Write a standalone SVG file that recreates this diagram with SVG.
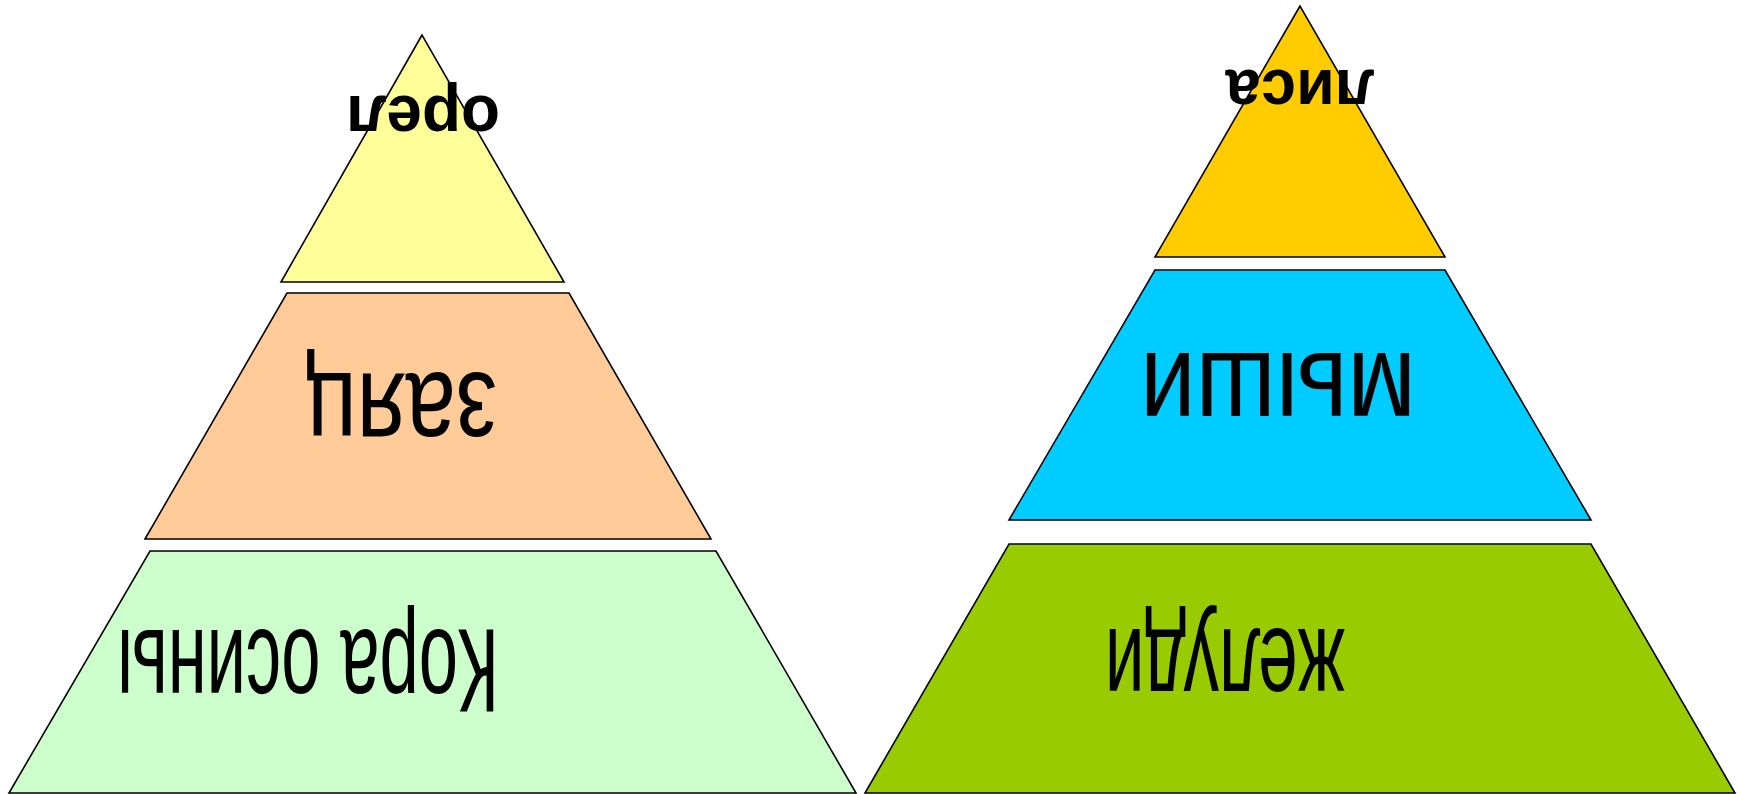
<svg xmlns="http://www.w3.org/2000/svg" width="1743" height="794" viewBox="0 0 1743 794">
<style>
.sh{stroke:#000;stroke-width:1.6;stroke-linejoin:miter}
.t{font-family:"Liberation Sans",Arial,sans-serif;fill:#000;text-anchor:middle}
.b{font-weight:bold}
</style>
<rect width="1743" height="794" fill="#fff"/>
<g id="connectors"></g>
<g id="left-top">
<polygon class="sh" fill="#FFFF99" points="422,35 281,282 564,282"/>
<text class="t b" x="423" y="96" font-size="66" textLength="154" lengthAdjust="spacingAndGlyphs" transform="rotate(180 423 96)">орел</text>
</g>
<g id="left-middle">
<polygon class="sh" fill="#FFCC99" points="287,293 569,293 711,539 145,539"/>
<text class="t" x="401" y="373" font-size="119" textLength="192" lengthAdjust="spacingAndGlyphs" transform="rotate(180 401 373)">заяц</text>
</g>
<g id="left-bottom">
<polygon class="sh" fill="#CCFFCC" points="150,551 716,551 856,793 9,793"/>
<text class="t" x="308" y="630" font-size="118" textLength="382" lengthAdjust="spacingAndGlyphs" transform="rotate(180 308 630)">Кора осины</text>
</g>
<g id="right-top">
<polygon class="sh" fill="#FFCC00" points="1300,6 1155,257 1445,257"/>
<text class="t b" x="1300" y="70" font-size="64" textLength="149" lengthAdjust="spacingAndGlyphs" transform="rotate(180 1300 70)">лиса</text>
</g>
<g id="right-middle">
<polygon class="sh" fill="#00CCFF" points="1155,270 1445,270 1591,520 1009,520"/>
<text class="t" x="1278" y="353" font-size="118" textLength="276" lengthAdjust="spacingAndGlyphs" transform="rotate(180 1278 353)">мыши</text>
</g>
<g id="right-bottom">
<polygon class="sh" fill="#99CC00" points="1009,544 1591,544 1735,793 865,793"/>
<text class="t" x="1225" y="629" font-size="117" textLength="240" lengthAdjust="spacingAndGlyphs" transform="rotate(180 1225 629)">желуди</text>
</g>
</svg>
